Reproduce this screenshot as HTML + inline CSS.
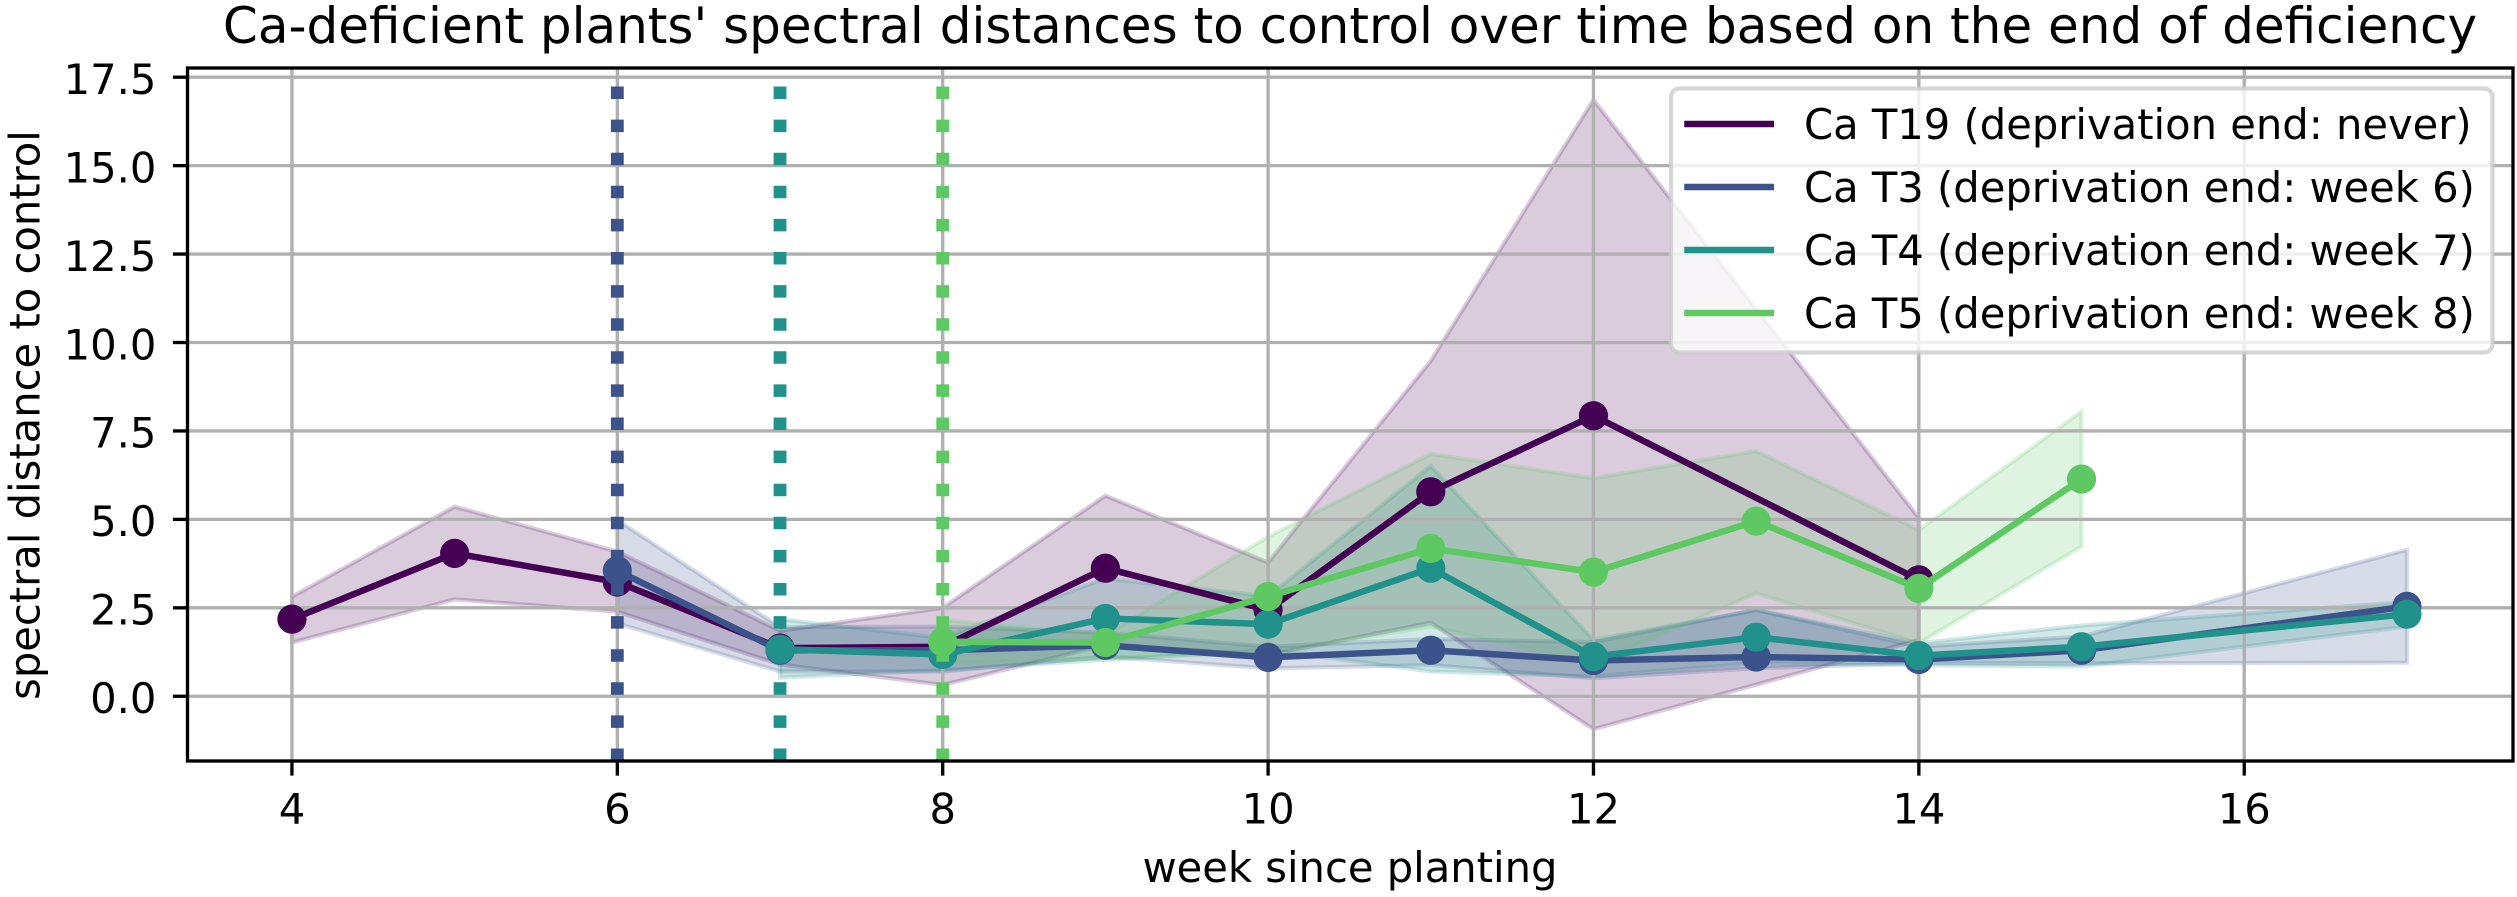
<!DOCTYPE html>
<html lang="en">
<head>
<meta charset="utf-8">
<title>Ca-deficient plants' spectral distances to control</title>
<style>
html,body{margin:0;padding:0;background:#fff;width:2517px;height:897px;overflow:hidden}
svg{display:block}
text{font-family:"DejaVu Sans","Liberation Sans",sans-serif;fill:#000}
</style>
</head>
<body>
<svg id="chart" xmlns="http://www.w3.org/2000/svg" width="2517" height="897" viewBox="0 0 2517 897">
  <defs><clipPath id="plot-clip"><rect x="187.5" y="68" width="2325.5" height="693"/></clipPath></defs>
  <rect x="0" y="0" width="2517" height="897" fill="#fff"/>
  <g id="bands" clip-path="url(#plot-clip)"></g>
  <g id="grid" clip-path="url(#plot-clip)"></g>
  <g id="series" clip-path="url(#plot-clip)"></g>
  <g id="ticks"></g>
  <rect x="187.5" y="68" width="2325.5" height="693" fill="none" stroke="#000" stroke-width="3.33"/>
  <text x="1350" y="43" font-size="50" text-anchor="middle">Ca-deficient plants' spectral distances to control over time based on the end of deficiency</text>
  <text x="1350" y="882" font-size="41.67" text-anchor="middle">week since planting</text>
  <text transform="translate(39.5 415) rotate(-90)" font-size="41.67" text-anchor="middle">spectral distance to control</text>
  <g>
    <rect x="1671" y="88.5" width="821.5" height="264" rx="8.5" ry="8.5" fill="#fff" fill-opacity="0.8" stroke="#ccc" stroke-opacity="0.8" stroke-width="4.17"/>
    <g>
      <line x1="1687.5" x2="1770.8" y1="124" y2="124" stroke="#440154" stroke-width="6.5" stroke-linecap="square"/>
      <text x="1804" y="139" font-size="41.67">Ca T19 (deprivation end: never)</text>
    </g>
    <g>
      <line x1="1687.5" x2="1770.8" y1="187" y2="187" stroke="#3b528b" stroke-width="6.5" stroke-linecap="square"/>
      <text x="1804" y="202" font-size="41.67">Ca T3 (deprivation end: week 6)</text>
    </g>
    <g>
      <line x1="1687.5" x2="1770.8" y1="250" y2="250" stroke="#21918c" stroke-width="6.5" stroke-linecap="square"/>
      <text x="1804" y="265" font-size="41.67">Ca T4 (deprivation end: week 7)</text>
    </g>
    <g>
      <line x1="1687.5" x2="1770.8" y1="313" y2="313" stroke="#5ec962" stroke-width="6.5" stroke-linecap="square"/>
      <text x="1804" y="328" font-size="41.67">Ca T5 (deprivation end: week 8)</text>
    </g>
  </g>
</svg>
<script>
// Chart data
const xTickValues = [4, 6, 8, 10, 12, 14, 16];
const xTickLabels = ["4", "6", "8", "10", "12", "14", "16"];
const yTickValues = [0, 2.5, 5, 7.5, 10, 12.5, 15, 17.5];
const yTickLabels = ["0.0", "2.5", "5.0", "7.5", "10.0", "12.5", "15.0", "17.5"];

const weeksT19 = [4, 5, 6, 7, 8, 9, 10, 11, 12, 14];
const meanT19 = [2.18, 4.04, 3.23, 1.36, 1.4, 3.62, 2.44, 5.78, 7.93, 3.29];
const upperT19 = [2.81, 5.36, 4.09, 1.85, 2.5, 5.67, 3.78, 9.48, 16.86, 5.04];
const lowerT19 = [1.52, 2.74, 2.39, 0.9, 0.32, 1.45, 1.17, 2.08, -0.93, 1.59];

const weeksT3 = [6, 7, 8, 9, 10, 11, 12, 13, 14, 15, 17];
const meanT3 = [3.55, 1.3, 1.3, 1.44, 1.1, 1.3, 1.01, 1.11, 1.04, 1.3, 2.54];
const upperT3 = [4.98, 1.95, 1.97, 1.8, 1.4, 1.62, 1.53, 2.44, 1.4, 1.69, 4.14];
const lowerT3 = [2.06, 0.7, 0.7, 1.12, 0.79, 0.88, 0.51, 0.79, 0.94, 0.93, 0.95];

const weeksT4 = [7, 8, 9, 10, 11, 12, 13, 14, 15, 17];
const meanT4 = [1.33, 1.18, 2.2, 2.04, 3.62, 1.12, 1.67, 1.15, 1.4, 2.32];
const upperT4 = [2.18, 1.65, 3.33, 2.82, 6.51, 1.59, 2.44, 1.5, 2.0, 2.67];
const lowerT4 = [0.53, 0.74, 1.03, 1.31, 0.7, 0.56, 0.94, 0.88, 0.84, 1.97];

const weeksT5 = [8, 9, 10, 11, 12, 13, 14, 15];
const meanT5 = [1.54, 1.52, 2.82, 4.18, 3.51, 4.95, 3.05, 6.14];
const upperT5 = [2.16, 1.73, 4.51, 6.85, 6.16, 6.93, 4.7, 8.05];
const lowerT5 = [0.93, 1.08, 1.22, 1.97, 0.94, 2.91, 1.5, 4.23];

const deprivationEndT3 = 6;
const deprivationEndT4 = 7;
const deprivationEndT5 = 8;

const NS = "http://www.w3.org/2000/svg";
const plot = { left: 187.5, right: 2513, top: 68, bottom: 761 };
const xDomain = [3.358, 17.652];
const yDomain = [-1.83, 17.76];

function xScale(week) {
  return plot.left + (week - xDomain[0]) / (xDomain[1] - xDomain[0]) * (plot.right - plot.left);
}
function yScale(value) {
  return plot.bottom - (value - yDomain[0]) / (yDomain[1] - yDomain[0]) * (plot.bottom - plot.top);
}
function make(tag, attrs, parent) {
  const el = document.createElementNS(NS, tag);
  for (const key in attrs) el.setAttribute(key, attrs[key]);
  parent.appendChild(el);
  return el;
}

const bandsLayer = document.getElementById("bands");
const gridLayer = document.getElementById("grid");
const seriesLayer = document.getElementById("series");
const ticksLayer = document.getElementById("ticks");

// Grid lines, tick marks and tick labels
xTickValues.forEach(function (week, i) {
  const px = xScale(week);
  const gridLine = make("line", { x1: px, x2: px, y1: plot.top, y2: plot.bottom, stroke: "#b0b0b0", "stroke-width": 3.33 }, gridLayer);
  
  
  const tick = make("line", { x1: px, x2: px, y1: plot.bottom, y2: plot.bottom + 14.6, stroke: "#000", "stroke-width": 3.33 }, ticksLayer);
  
  
  const label = make("text", { x: px, y: 823.3, "font-size": 41.67, "text-anchor": "middle" }, ticksLayer);
  
  
  label.textContent = xTickLabels[i];
});
yTickValues.forEach(function (value, i) {
  const py = yScale(value);
  const gridLine = make("line", { x1: plot.left, x2: plot.right, y1: py, y2: py, stroke: "#b0b0b0", "stroke-width": 3.33 }, gridLayer);
  
  
  const tick = make("line", { x1: plot.left, x2: plot.left - 14.6, y1: py, y2: py, stroke: "#000", "stroke-width": 3.33 }, ticksLayer);
  
  
  const label = make("text", { x: 156.4, y: py + 16.8, "font-size": 41.67, "text-anchor": "end" }, ticksLayer);
  
  
  label.textContent = yTickLabels[i];
});

function drawBand(weeks, upper, lower, color, name) {
  const top = weeks.map(function (w, i) { return xScale(w) + "," + yScale(upper[i]); });
  const bottom = weeks.map(function (w, i) { return xScale(w) + "," + yScale(lower[i]); }).reverse();
  const band = make("polygon", { points: top.concat(bottom).join(" "), fill: color, "fill-opacity": 0.2, stroke: color, "stroke-opacity": 0.2, "stroke-width": 4.17, "stroke-linejoin": "miter" }, bandsLayer);
  
  
}
function drawLine(weeks, mean, color, name) {
  const pts = weeks.map(function (w, i) { return xScale(w) + "," + yScale(mean[i]); }).join(" ");
  const line = make("polyline", { points: pts, fill: "none", stroke: color, "stroke-width": 6.5, "stroke-linejoin": "round" }, seriesLayer);
  
  
  weeks.forEach(function (w, i) {
    const point = make("circle", { cx: xScale(w), cy: yScale(mean[i]), r: 14.6, fill: color }, seriesLayer);
    
    
  });
}
function drawDeprivationEnd(week, color, name) {
  const px = xScale(week);
  const marker = make("line", { x1: px, x2: px, y1: plot.bottom, y2: plot.top, stroke: color, "stroke-width": 12.8, "stroke-dasharray": "12.5 20.6" }, seriesLayer);
  
  
}

drawBand(weeksT19, upperT19, lowerT19, "#440154", "t19");
drawBand(weeksT3, upperT3, lowerT3, "#3b528b", "t3");
drawBand(weeksT4, upperT4, lowerT4, "#21918c", "t4");
drawBand(weeksT5, upperT5, lowerT5, "#5ec962", "t5");

drawLine(weeksT19, meanT19, "#440154", "t19");
drawLine(weeksT3, meanT3, "#3b528b", "t3");
drawDeprivationEnd(deprivationEndT3, "#3b528b", "t3");
drawLine(weeksT4, meanT4, "#21918c", "t4");
drawDeprivationEnd(deprivationEndT4, "#21918c", "t4");
drawLine(weeksT5, meanT5, "#5ec962", "t5");
drawDeprivationEnd(deprivationEndT5, "#5ec962", "t5");
</script>
</body>
</html>
